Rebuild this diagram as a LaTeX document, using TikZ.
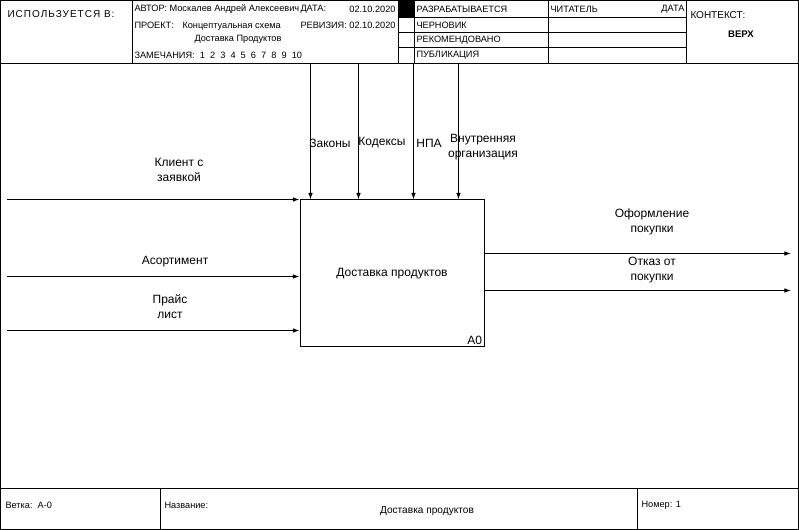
\documentclass[tikz,border=0pt]{standalone}
\usepackage{fontspec}
\setmainfont{Liberation Sans}
\usetikzlibrary{arrows.meta,positioning}
\tikzset{
  flow/.style={-{Latex[length=5pt,width=3.5pt]},line width=0.75pt},
  lbl/.style={font=\fontsize{9}{11.2}\selectfont,align=center,inner sep=1pt},
  hdr/.style={font=\fontsize{6.9}{7.5}\selectfont,anchor=west,inner sep=0pt},
  hdrr/.style={hdr,anchor=east},
}
\begin{document}
\begin{tikzpicture}[x=0.75pt,y=-0.75pt,line width=0.75pt]
\useasboundingbox (0,0) rectangle (799,530);
% frame, header and footer
\draw (0.5,0.5) rectangle (798.5,529.5);
\draw (0.5,63.5) -- (798.5,63.5);
\draw (0.5,488.5) -- (798.5,488.5);
\draw (132.5,0.5) -- (132.5,63.5);
\draw (398.5,0.5) -- (398.5,63.5);
\draw (414.5,0.5) -- (414.5,63.5);
\draw (548.5,0.5) -- (548.5,63.5);
\draw (686.5,0.5) -- (686.5,63.5);
\foreach \y in {17.5,32.5,47.5}
  \draw (398.5,\y) -- (686.5,\y);
\fill (398.5,0.5) rectangle (414.5,17.5);
\draw (160.5,488.5) -- (160.5,529.5);
\draw (637.5,488.5) -- (637.5,529.5);

\node[hdr,font=\fontsize{7.5}{8}\selectfont\addfontfeature{LetterSpace=10}] (used) at (7,14) {ИСПОЛЬЗУЕТСЯ В:};
\node[hdr] (author) at (134,9) {АВТОР: Москалев Андрей Алексеевич};
\node[hdr] (date) at (300,9) {ДАТА:};
\node[hdrr] (dateval) at (396,9) {02.10.2020};
\node[hdr] (project) at (134,25) {ПРОЕКТ:};
\node[hdr] (projname) at (182,26) {Концептуальная схема};
\node[hdrr] (revision) at (396,25) {РЕВИЗИЯ: 02.10.2020};
\node[hdr,anchor=center] (projname2) at (238,39) {Доставка Продуктов};
\node[hdr] (notes) at (134,55) {ЗАМЕЧАНИЯ:\ \ 1\ \ 2\ \ 3\ \ 4\ \ 5\ \ 6\ \ 7\ \ 8\ \ 9\ \ 10};
\node[hdr] (working) at (416,9) {РАЗРАБАТЫВАЕТСЯ};
\node[hdr] (draft) at (416,25) {ЧЕРНОВИК};
\node[hdr] (recom) at (416,40) {РЕКОМЕНДОВАНО};
\node[hdr] (publ) at (416,55) {ПУБЛИКАЦИЯ};
\node[hdr] (reader) at (550,9) {ЧИТАТЕЛЬ};
\node[hdrr] (rdate) at (685,9) {ДАТА};
\node[hdr,font=\fontsize{7.5}{8}\selectfont] (context) at (690,15) {КОНТЕКСТ:};
\node[hdr,anchor=center,font=\fontsize{7.2}{8}\selectfont\bfseries] (top) at (741,34) {ВЕРХ};

\node[hdr] (node) at (5,505) {Ветка:\ \ А-0};
\node[hdr] (title) at (164,505) {Название:};
\node[hdr,anchor=center,font=\fontsize{7.6}{8}\selectfont] (titleval) at (427,511) {Доставка продуктов};
\node[hdr] (number) at (641,505) {Номер: 1};

% activity
\node[draw,anchor=north west,minimum width=138pt,minimum height=110.25pt,
  inner sep=0pt,lbl] (act) at (299.5,199.5) {Доставка продуктов};
\node[lbl,anchor=south east,inner sep=1.5pt] (a0) at (act.south east) {A0};

% inputs
\coordinate (in1) at (7,199.5);
\coordinate (in2) at (7,276.5);
\coordinate (in3) at (7,330.5);
\draw[flow] (in1) -- (in1 -| act.west);
\draw[flow] (in2) -- (in2 -| act.west);
\draw[flow] (in3) -- (in3 -| act.west);
\node[lbl] (client) at (179,170) {Клиент с\\заявкой};
\node[lbl] (assort) at (175,262) {Асортимент};
\node[lbl] (price) at (170,307) {Прайс\\лист};

% controls
\coordinate (c1) at (310.5,63.5);
\coordinate (c2) at (358.5,63.5);
\coordinate (c3) at (413.5,63.5);
\coordinate (c4) at (458.5,63.5);
\foreach \c in {c1,c2,c3,c4}
  \draw[flow] (\c) -- (\c |- act.north);
\node[lbl] (laws) at (330,143) {Законы};
\node[lbl] (codes) at (382,143) {Кодексы};
\node[lbl] (npa) at (429,143) {НПА};
\node[lbl] (inner) at (483,147) {Внутренняя\\организация};

% outputs
\coordinate (o1) at (791,253.5);
\coordinate (o2) at (791,290.5);
\draw[flow] (o1 -| act.east) -- (o1);
\draw[flow] (o2 -| act.east) -- (o2);
\node[lbl] (buy) at (652,222) {Оформление\\покупки};
\node[lbl] (refuse) at (652,270) {Отказ от\\покупки};
\end{tikzpicture}
\end{document}
